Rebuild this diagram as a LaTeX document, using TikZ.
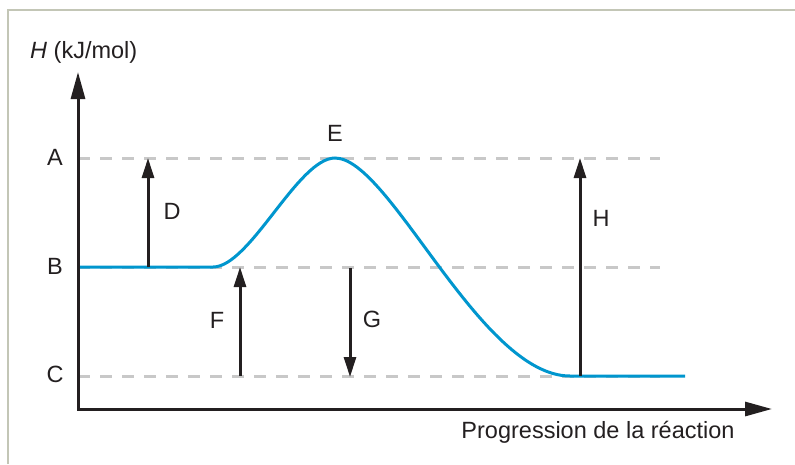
\documentclass[tikz,border=0pt]{standalone}
\usepackage{fontspec}
\setmainfont{Liberation Sans}
\usetikzlibrary{arrows.meta}
\definecolor{courbe}{RGB}{0,150,206}
\definecolor{tirets}{RGB}{200,200,200}
\definecolor{encre}{RGB}{35,31,32}
\definecolor{cadre}{RGB}{195,198,182}
\tikzset{
	fleche/.style={draw=encre, line width=3pt, -{Triangle[length=20pt,width=12pt]}},
	axe/.style={draw=encre, line width=3pt, line join=miter, {Triangle[length=27pt,width=14pt]}-{Triangle[length=27pt,width=14pt]}},
	niveau/.style={draw=tirets, line width=3pt, dash pattern=on 12pt off 10pt},
	lettre/.style={inner sep=0pt, text=encre},
}
\begin{document}
\begin{tikzpicture}[x=1pt, y=-1pt, font=\fontsize{23.5}{28}\selectfont]
	\useasboundingbox (0,0) rectangle (795,464);
	\draw[cadre, line width=2.7pt] (8,464) -- (8,10) -- (795,10);
	\def\ya{158} % niveau A
	\def\yb{267} % niveau B
	\def\yc{376} % niveau C
	\path 
	(78,\ya) coordinate (gA) (660,\ya) coordinate (dA)
	(78,\yb) coordinate (gB) (660,\yb) coordinate (dB)
	(78,\yc) coordinate (gC) (660,\yc) coordinate (dC);
	\draw[niveau] (gA)--(dA);
	\draw[niveau] (gB)--(dB);
	\draw[niveau] (gC)--(dC);
	% courbe
	\draw[courbe, line width=3pt] 
	(80,\yb) -- (213,\yb) 
	.. controls (250,\yb) and (298,\ya) .. (335,\ya) 
	.. controls (390,\ya) and (480,\yc) .. (570,\yc) -- (685,\yc);
	\path 
	(148,\yb) coordinate (Dbas) (148,\ya) coordinate (Dhaut)
	(240,\yc) coordinate (Fbas) (240,\yb) coordinate (Fhaut)
	(350,\yb+1) coordinate (Ghaut) (350,\yc+1) coordinate (Gbas)
	(580,\yc) coordinate (Hbas) (580,\ya) coordinate (Hhaut);
	\draw[fleche] (Dbas)--(Dhaut);
	\draw[fleche] (Fbas)--(Fhaut);
	\draw[fleche] (Ghaut)--(Gbas);
	\draw[fleche] (Hbas)--(Hhaut);
	% axes
	\path (78,72) coordinate (yfin) (78,409) coordinate (O) (772,409) coordinate (xfin);
	\draw[axe] (yfin)--(O)--(xfin);
	\path 
	(55,157) node[lettre] (A) {A}
	(55,266) node[lettre] (B) {B}
	(55,374) node[lettre] (C) {C}
	(172,211) node[lettre] (D) {D}
	(335,133) node[lettre] (E) {E}
	(217,320) node[lettre] (F) {F}
	(372,319) node[lettre] (G) {G}
	(601,218) node[lettre] (H) {H};
	\node[lettre, anchor=base west] (unite) at (30,58) {\textit{H} (kJ/mol)};
	\node[lettre, anchor=base] (abscisse) at (598,438) {Progression de la réaction};
\end{tikzpicture}
\end{document}
